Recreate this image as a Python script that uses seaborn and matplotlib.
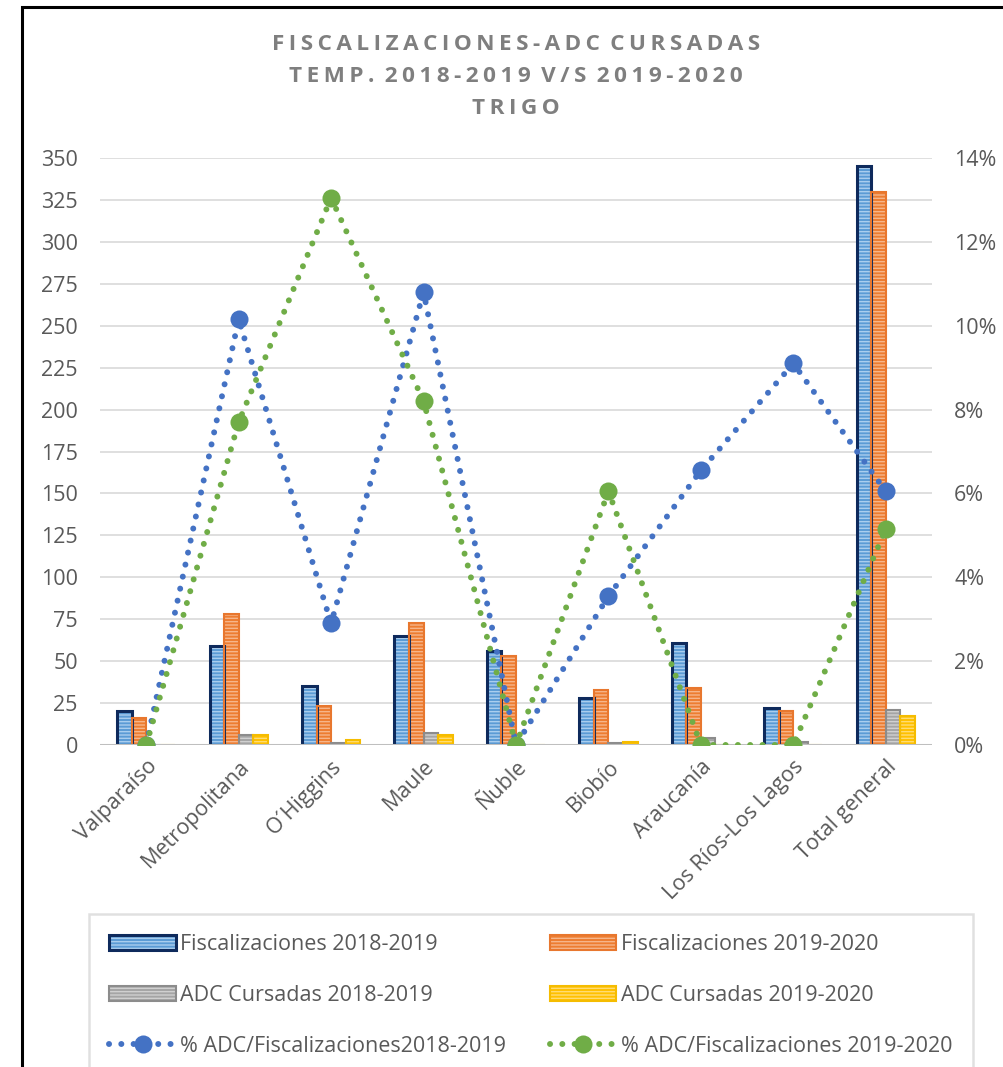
import numpy as np
import pandas as pd
import matplotlib
matplotlib.use("Agg")
import matplotlib.pyplot as plt
from matplotlib.patches import Rectangle
from matplotlib.legend_handler import HandlerTuple
import seaborn as sns

# ---- data ----
regions = ["Valparaíso", "Metropolitana", "O´Higgins", "Maule", "Ñuble",
           "Biobío", "Araucanía", "Los Ríos-Los Lagos", "Total general"]
fisc_1819 = [20, 59, 35, 65, 56, 28, 61, 22, 345]
fisc_1920 = [16, 78, 23, 73, 53, 33, 34, 20, 330]
adc_1819 = [0, 6, 1, 7, 0, 1, 4, 2, 21]
adc_1920 = [0, 6, 3, 6, 0, 2, 0, 0, 17]
pct_1819 = [0.0, 10.15, 2.9, 10.8, 0.0, 3.55, 6.55, 9.1, 6.05]
pct_1920 = [0.0, 7.7, 13.05, 8.2, 0.0, 6.05, 0.0, 0.0, 5.15]

series_names = ["Fiscalizaciones 2018-2019", "Fiscalizaciones 2019-2020",
                "ADC Cursadas 2018-2019", "ADC Cursadas 2019-2020"]
pct_names = ["% ADC/Fiscalizaciones2018-2019", "% ADC/Fiscalizaciones 2019-2020"]

fill_cols = ["#5B9BD5", "#ED7D31", "#A5A5A5", "#FFC000"]
stripe_cols = ["#A9CDEE", "#F6B58A", "#D0D0D0", "#FFDC73"]
edge_cols = ["#0E2A5C", "#E8772E", "#8C8C8C", "#F5BC00"]
line_cols = ["#4472C4", "#70AD47"]
text_col = "#595959"

bars = pd.DataFrame({
    "region": regions * 4,
    "value": fisc_1819 + fisc_1920 + adc_1819 + adc_1920,
    "series": sum([[s] * len(regions) for s in series_names], []),
})

sns.set_style("white")
plt.rcParams["font.family"] = ["Open Sans", "DejaVu Sans"]
plt.rcParams["hatch.linewidth"] = 1.0

fig = plt.figure(figsize=(10.04, 10.67), dpi=100)
ax = fig.add_axes([0.0996, 0.3018, 0.8287, 0.5501])

# striped fill
sns.barplot(data=bars, x="region", y="value", hue="series", hue_order=series_names,
            palette=fill_cols, saturation=1, width=0.63, errorbar=None,
            linewidth=0, hatch="-----", legend=False, ax=ax, zorder=2)
for i, cont in enumerate(ax.containers):
    for b in cont:
        b.set_edgecolor(stripe_cols[i])
        b.set_linewidth(0)

# outlines
sns.barplot(data=bars, x="region", y="value", hue="series", hue_order=series_names,
            palette=edge_cols, saturation=1, width=0.63, errorbar=None, fill=False,
            linewidth=1.5, legend=False, ax=ax, zorder=3)
for b in ax.containers[4]:
    b.set_linewidth(2.2)

ax.set_ylim(0, 350)
ax.set_xlim(-0.5, len(regions) - 0.5)
ax.set_yticks(np.arange(0, 351, 25))
ax.yaxis.grid(True, color="#D9D9D9", linewidth=1.2)
ax.set_axisbelow(True)
ax.axhline(0, color="#BFBFBF", linewidth=2.2, zorder=4)
for s in ax.spines.values():
    s.set_visible(False)
ax.set_xlabel("")
ax.set_ylabel("")
ax.tick_params(axis="y", length=0, labelcolor=text_col, labelsize=15.5, pad=16)
ax.tick_params(axis="x", length=0, labelcolor=text_col, labelsize=15.5, pad=8)
plt.setp(ax.get_xticklabels(), rotation=45, ha="right", rotation_mode="anchor")

# percentage lines on the right axis
ax2 = ax.twinx()
pos = np.arange(len(regions))
for vals, col, name in zip([pct_1819, pct_1920], line_cols, pct_names):
    sns.lineplot(x=pos, y=vals, ax=ax2, color=col, linewidth=4.3,
                 linestyle=(0, (0.01, 2.05)), dash_capstyle="round",
                 marker="o", markersize=13, markeredgewidth=0,
                 legend=False, label=name)
ax2.set_ylim(0, 14)
ax2.set_yticks(np.arange(0, 15, 2))
ax2.set_yticklabels([f"{v}%" for v in range(0, 15, 2)])
ax2.tick_params(axis="y", length=0, labelcolor=text_col, labelsize=15.5, pad=16)
for s in ax2.spines.values():
    s.set_visible(False)
ax2.set_xlabel("")
ax2.set_ylabel("")

# title with letter spacing
tsp = "\u2009"
for txt, yy in zip(["FISCALIZACIONES-ADC CURSADAS", "TEMP. 2018-2019 V/S 2019-2020", "TRIGO"],
                   [45, 76, 108]):
    fig.text(0.514, 1 - yy / 1067, tsp.join(txt).replace(" " + tsp, " "),
             ha="center", va="center", fontsize=16.2, fontweight="bold", color="#7F7F7F")

# legend
hatch_h = [c.patches[0] for c in ax.containers[:4]]
edge_h = [c.patches[0] for c in ax.containers[4:8]]
bar_h = [(h, e) for h, e in zip(hatch_h, edge_h)]
line_h = ax2.lines[:2]
handles = [bar_h[0], bar_h[2], line_h[0], bar_h[1], bar_h[3], line_h[1]]
labels = [series_names[0], series_names[2], pct_names[0],
          series_names[1], series_names[3], pct_names[1]]
leg = fig.legend(handles, labels, ncol=2, loc="upper left",
                 bbox_to_anchor=(89 / 1004, 1 - 914 / 1067), borderaxespad=0,
                 handler_map={tuple: HandlerTuple(ndivide=1, pad=0)},
                 fontsize=15.5, handlelength=3.1, handletextpad=0.2,
                 labelspacing=1.38, columnspacing=2.0, borderpad=0.95,
                 frameon=True, fancybox=False, edgecolor="#D9D9D9")
leg.get_frame().set_linewidth(1.8)
for t in leg.get_texts():
    t.set_color(text_col)

# outer frame
fig.add_artist(Rectangle((22 / 1004, -0.1), 1.2, 1.1 - 7 / 1067,
                         transform=fig.transFigure, fill=False,
                         edgecolor="black", linewidth=2.2))

fig.savefig("out.png", dpi=100)
